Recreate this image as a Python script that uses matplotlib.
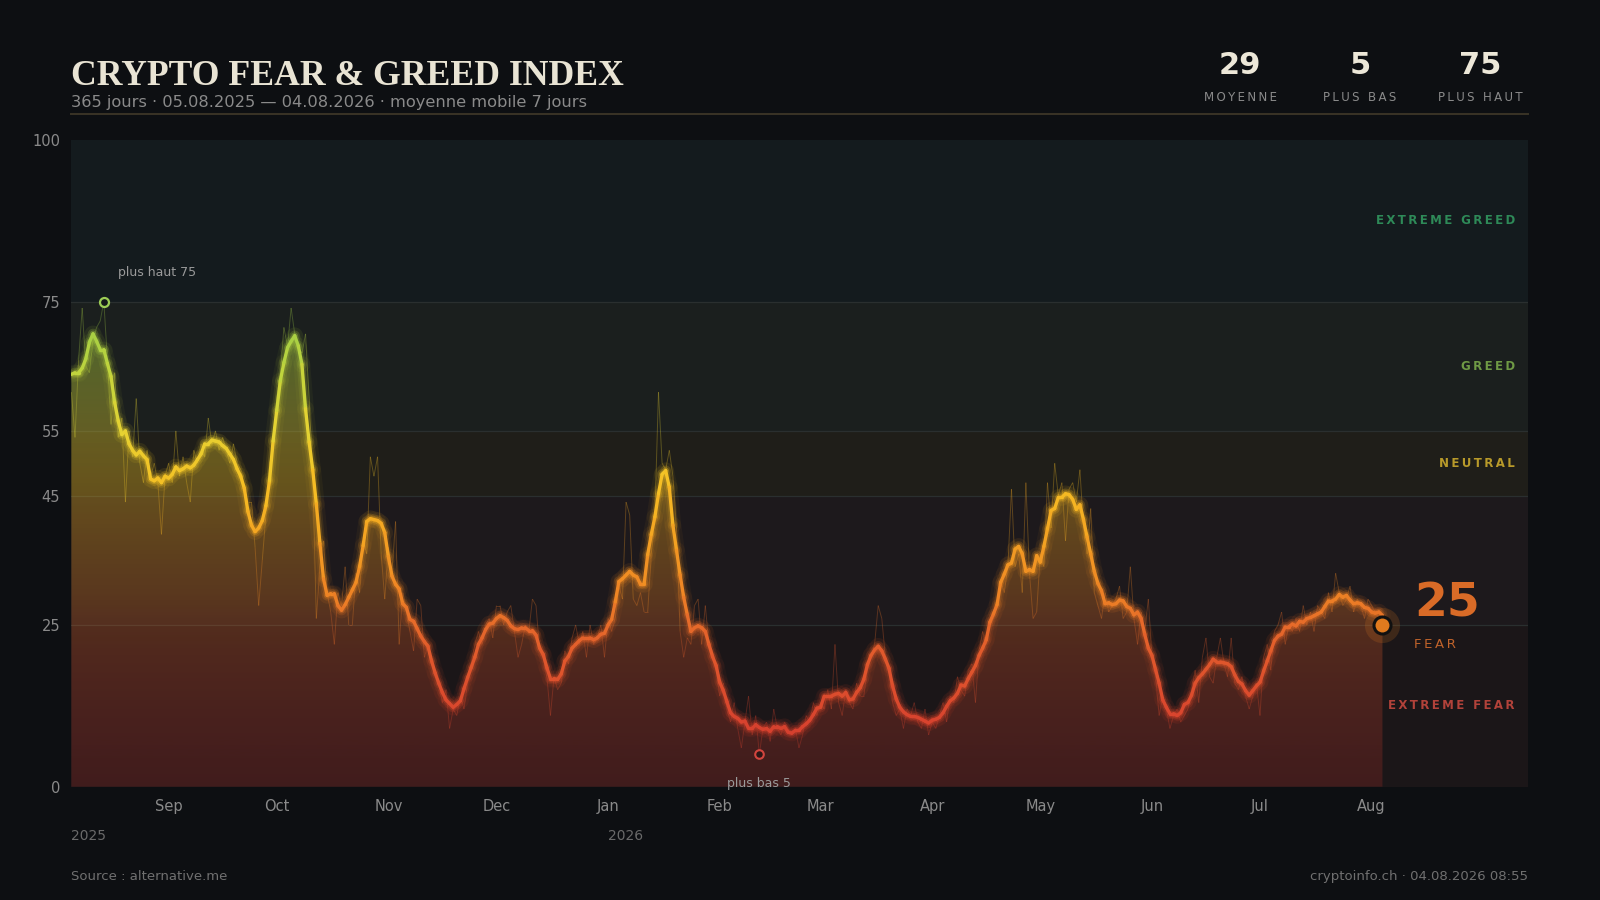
import matplotlib
matplotlib.use("Agg")
import matplotlib.pyplot as plt
import matplotlib.dates as mdates
import matplotlib.transforms as mtransforms
from matplotlib.collections import LineCollection
from matplotlib.colors import LinearSegmentedColormap, Normalize
import numpy as np
import pandas as pd

# ---------------- data ----------------
START = "2025-08-05"
daily = [
    61, 54, 66, 74, 65, 64, 69, 71, 72, 75,
    66, 56, 64, 54, 57, 44, 55, 51, 60, 50,
    47, 52, 48, 50, 47, 39, 48, 50, 47, 55,
    48, 51, 47, 44, 52, 50, 53, 51, 57, 53,
    55, 52, 54, 52, 50, 53, 50, 49, 46, 44,
    44, 37, 28, 35, 42, 50, 52, 60, 64, 71,
    68, 74, 70, 68, 67, 70, 60, 48, 26, 34,
    38, 30, 27, 22, 30, 28, 34, 25, 25, 33,
    30, 38, 36, 51, 48, 51, 36, 29, 37, 33,
    41, 22, 30, 27, 24, 21, 29, 28, 20, 22,
    19, 18, 16, 13, 15, 9, 12, 11, 14, 12,
    16, 19, 22, 24, 22, 25, 26, 23, 28, 28,
    25, 27, 28, 24, 20, 22, 25, 24, 29, 28,
    21, 20, 17, 11, 17, 15, 16, 21, 19, 23,
    25, 22, 24, 20, 25, 22, 23, 25, 20, 26,
    24, 26, 31, 29, 44, 42, 29, 28, 30, 27,
    27, 36, 42, 61, 50, 49, 52, 48, 40, 24,
    20, 23, 22, 28, 29, 22, 28, 22, 21, 18,
    14, 16, 12, 10, 13, 9, 6, 10, 14, 8,
    11, 5, 9, 10, 7, 12, 9, 8, 10, 9,
    8, 9, 6, 8, 11, 10, 13, 11, 13, 12,
    15, 12, 22, 13, 11, 15, 13, 12, 16, 14,
    14, 18, 20, 22, 28, 26, 20, 18, 13, 11,
    12, 9, 12, 11, 13, 10, 9, 12, 8, 10,
    9, 11, 13, 10, 14, 13, 17, 15, 14, 18,
    19, 13, 21, 24, 22, 25, 26, 28, 32, 30,
    34, 46, 34, 36, 30, 47, 33, 26, 27, 36,
    34, 47, 40, 50, 45, 47, 38, 46, 47, 44,
    49, 40, 36, 43, 30, 28, 26, 30, 27, 28,
    29, 31, 26, 27, 34, 26, 22, 27, 24, 29,
    20, 17, 11, 14, 12, 9, 11, 12, 10, 11,
    12, 15, 18, 13, 20, 23, 17, 16, 20, 23,
    19, 17, 23, 16, 15, 17, 14, 12, 14, 16,
    11, 20, 22, 18, 24, 25, 27, 22, 25, 24,
    26, 24, 28, 25, 27, 24, 28, 27, 26, 30,
    27, 33, 30, 28, 29, 31, 27, 29, 28, 26,
    29, 28, 27, 26, 25,
]
zone_edges = [0, 25, 45, 55, 75, 100]
zone_names = ["EXTREME FEAR", "FEAR", "NEUTRAL", "GREED", "EXTREME GREED"]
zone_bg = ["#1b1618", "#1d191c", "#1f1e19", "#1b1f1e", "#141b1e"]
zone_txt = ["#b2423a", "#d86a28", "#b89a2a", "#6f9a45", "#2e8a58"]
ytick_vals = [0, 25, 45, 55, 75, 100]

title = "CRYPTO FEAR & GREED INDEX"
subtitle = "365 jours · 05.08.2025 — 04.08.2026 · moyenne mobile 7 jours"
source_txt = "Source : alternative.me"
stamp_txt = "cryptoinfo.ch · 04.08.2026 08:55"

# ---------------- derived ----------------
dates = pd.date_range(START, periods=len(daily), freq="D")
x = mdates.date2num(dates)
vals = np.array(daily, dtype=float)
ma7 = pd.Series(vals).rolling(7, center=True, min_periods=1).mean().values

BG = "#0d0f12"
cmap = LinearSegmentedColormap.from_list("fg", [
    (0.00, "#c8332e"), (0.10, "#d8432e"), (0.20, "#e0582c"), (0.25, "#e66a2a"),
    (0.30, "#ee8424"), (0.40, "#f4a722"), (0.47, "#f5c024"), (0.55, "#e6d232"),
    (0.65, "#bcd43e"), (0.75, "#8fc94a"), (1.00, "#3aa860")])
norm = Normalize(0, 100)

def spaced(s, sp="\u200a"):
    return sp.join(list(s))

fig = plt.figure(figsize=(16, 9), dpi=100, facecolor=BG)
L, R, T, B = 71.4, 1527.6, 139.8, 786.7
ax = fig.add_axes([L / 1600, 1 - B / 900, (R - L) / 1600, (B - T) / 900])
ax.set_facecolor(BG)

x0 = x[0]
x1 = x0 + 404.3

# zone backgrounds and lines
for i in range(5):
    ax.axhspan(zone_edges[i], zone_edges[i + 1], color=zone_bg[i], zorder=0, lw=0)
for v in zone_edges[1:-1]:
    ax.axhline(v, color="#2a2f2f", lw=0.9, zorder=0.5)

# gradient fill under moving average
poly = ax.fill_between(x, ma7, 0, facecolor="none", edgecolor="none", zorder=1)
grad = np.linspace(0, 100, 256).reshape(-1, 1)
rgba = cmap(norm(grad))
rgba[..., 3] = np.clip(0.22 + 0.0025 * grad, 0, 1)
im = ax.imshow(rgba, extent=[x[0], x[-1], 0, 100], origin="lower",
               aspect="auto", zorder=1, interpolation="bilinear")
im.set_clip_path(poly.get_paths()[0], transform=ax.transData)

def segs(xx, yy):
    pts = np.column_stack([xx, yy]).reshape(-1, 1, 2)
    return np.concatenate([pts[:-1], pts[1:]], axis=1)

# raw daily line
seg_raw = segs(x, vals)
c_raw = cmap(norm((vals[:-1] + vals[1:]) / 2))
c_raw[:, 3] = 0.30
ax.add_collection(LineCollection(seg_raw, colors=c_raw, linewidths=0.7, zorder=2))

# moving average with glow
seg_ma = segs(x, ma7)
mid = (ma7[:-1] + ma7[1:]) / 2
for lw, a in [(12, 0.05), (7.5, 0.10), (4.8, 0.18)]:
    c = cmap(norm(mid))
    c[:, 3] = a
    ax.add_collection(LineCollection(seg_ma, colors=c, linewidths=lw,
                                     capstyle="round", joinstyle="round", zorder=3))
ax.add_collection(LineCollection(seg_ma, colors=cmap(norm(mid)), linewidths=2.4,
                                 capstyle="round", joinstyle="round", zorder=4))

# max / min markers
imax = int(np.argmax(vals))
imin = int(np.argmin(vals))
ax.scatter([x[imax]], [vals[imax]], s=42, facecolor="#151a1a",
           edgecolor="#9ccc55", linewidths=1.6, zorder=6)
ax.annotate(f"plus haut {int(vals[imax])}", (x[imax], vals[imax]),
            xytext=(10, 21), textcoords="offset points", ha="left", va="center",
            fontsize=9, color="#9a9a9a", zorder=7)
ax.scatter([x[imin]], [vals[imin]], s=38, facecolor="#2a1616",
           edgecolor="#d2453e", linewidths=1.5, zorder=6)
ax.annotate(f"plus bas {int(vals[imin])}", (x[imin], vals[imin]),
            xytext=(0, -21), textcoords="offset points", ha="center", va="center",
            fontsize=9, color="#9a9a9a", zorder=7)

# current value dot
cur = vals[-1]
ax.scatter([x[-1]], [cur], s=640, facecolor="#e07a1e", alpha=0.18, lw=0, zorder=6)
ax.scatter([x[-1]], [cur], s=150, facecolor="#e07a1e", edgecolor="#111111",
           linewidths=2.2, zorder=7)
cur_zone = [i for i in range(5) if zone_edges[i] <= cur < zone_edges[i + 1]][0]
ax.annotate(f"{int(cur)}", (x[-1], cur), xytext=(23, 15), textcoords="offset points",
            ha="left", va="center", fontsize=34, fontweight="bold",
            color="#d96b27", zorder=8)
ax.annotate(spaced(zone_names[cur_zone], "\u2009"), (x[-1], cur), xytext=(23, -14),
            textcoords="offset points", ha="left", va="center", fontsize=9.5,
            color="#c0632b", zorder=8)

# zone labels
tr = mtransforms.blended_transform_factory(ax.transAxes, ax.transData)
for i in range(5):
    if i == cur_zone:
        continue
    ymid = (zone_edges[i] + zone_edges[i + 1]) / 2
    ax.text(0.9913, ymid, spaced(zone_names[i], "\u2009"), transform=tr,
            ha="right", va="center", fontsize=8.5, fontweight="bold",
            color=zone_txt[i], zorder=8)

# axes
ax.set_xlim(x0, x1)
ax.set_ylim(0, 100)
ax.set_yticks(ytick_vals)
month_starts = pd.date_range("2025-09-01", dates[-1], freq="MS")
ax.set_xticks(mdates.date2num(month_starts))
ax.set_xticklabels([d.strftime("%b") for d in month_starts])
ax.tick_params(axis="both", length=0, colors="#8a8a8a", labelsize=10.5)
ax.tick_params(axis="x", pad=9)
ax.tick_params(axis="y", pad=8)
for s in ax.spines.values():
    s.set_visible(False)

# year labels
trx = mtransforms.blended_transform_factory(ax.transData, ax.transAxes)
for yr_date in ["2025-08-05", "2026-01-01"]:
    d = pd.Timestamp(yr_date)
    ax.text(mdates.date2num(d), -0.0757, str(d.year), transform=trx, ha="left",
            va="center", fontsize=10, color="#6a6a6a")

# header
t = fig.text(L / 1600, 1 - 85 / 900, title, ha="left", va="baseline",
             fontsize=30, color="#e9e4d4", family="Liberation Serif", fontweight="bold")
st = fig.text(L / 1600, 1 - 107 / 900, subtitle, ha="left", va="baseline",
              fontsize=12, color="#8a8a8a")
fig.canvas.draw()
w = t.get_window_extent().width
t.set_fontsize(t.get_fontsize() * 551 / w)
w2 = st.get_window_extent().width
st.set_fontsize(st.get_fontsize() * 516 / w2)

fig.add_artist(plt.Line2D([L / 1600, R / 1600], [1 - 114.3 / 900] * 2,
                          color="#3a3426", lw=1.4, transform=fig.transFigure))

stat_vals = [int(round(vals.mean())), int(vals.min()), int(vals.max())]
stat_lbls = ["MOYENNE", "PLUS BAS", "PLUS HAUT"]
stat_x = [1240, 1360, 1480]
for sx, sv, sl in zip(stat_x, stat_vals, stat_lbls):
    fig.text(sx / 1600, 1 - 73.5 / 900, str(sv), ha="center", va="baseline",
             fontsize=22, fontweight="bold", color="#ece7d8")
    fig.text(sx / 1600, 1 - 101 / 900, spaced(sl, "\u2009"), ha="center",
             va="baseline", fontsize=8.5, color="#8a8a8a")

# footer
fig.text(L / 1600, 1 - 879.6 / 900, source_txt, ha="left", va="baseline",
         fontsize=9.5, color="#707070")
fig.text(R / 1600, 1 - 879.6 / 900, stamp_txt, ha="right", va="baseline",
         fontsize=9.5, color="#707070")

fig.savefig("out.png", dpi=100, facecolor=BG)
